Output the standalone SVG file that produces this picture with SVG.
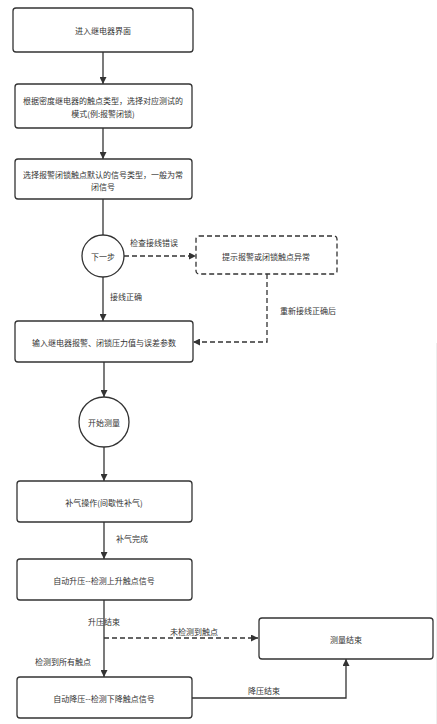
<svg xmlns="http://www.w3.org/2000/svg" width="437" height="724" viewBox="0 0 437 724">
<defs>
<style>
.box{fill:#fff;stroke:#333;stroke-width:1.3}
.dbox{fill:#fff;stroke:#333;stroke-width:1.3;stroke-dasharray:5 3}
.t{font-family:"Noto Sans CJK SC","Liberation Sans",sans-serif;font-size:8px;fill:#333;text-anchor:middle;dominant-baseline:central}
.l{font-family:"Noto Sans CJK SC","Liberation Sans",sans-serif;font-size:8px;fill:#333;dominant-baseline:central}
.c{fill:none;stroke:#333;stroke-width:1.3}
.d{fill:none;stroke:#333;stroke-width:1.3;stroke-dasharray:5 3}
</style>
<marker id="ah" viewBox="0 0 10 10" refX="10" refY="5" markerWidth="7" markerHeight="7" markerUnits="userSpaceOnUse" orient="auto"><path d="M0,0 L10,5 L0,10 z" fill="#333"/></marker>
</defs>
<rect width="437" height="724" fill="#fff"/>
<line x1="436.5" y1="343" x2="436.5" y2="724" stroke="#eee" stroke-width="1"/>
<g id="connectors">
<path class="c" d="M103,52 V84" marker-end="url(#ah)"/>
<path class="c" d="M103,128 V159" marker-end="url(#ah)"/>
<path class="c" d="M103,199 V235"/>
<path class="c" d="M103,277 V321" marker-end="url(#ah)"/>
<path class="d" d="M124,256 H196" marker-end="url(#ah)"/>
<path class="d" d="M267,274 V342 H193" marker-end="url(#ah)"/>
<path class="c" d="M104,362 V397" marker-end="url(#ah)"/>
<path class="c" d="M104,447 V481" marker-end="url(#ah)"/>
<path class="c" d="M104,522 V559" marker-end="url(#ah)"/>
<path class="c" d="M104,600 V677" marker-end="url(#ah)"/>
<path class="d" d="M104,638 H258" marker-end="url(#ah)"/>
<path class="c" d="M192,698 H346 V659" marker-end="url(#ah)"/>
<text class="l" x="130" y="242">检查接线错误</text>
<text class="l" x="110" y="296">接线正确</text>
<text class="l" x="280" y="310">重新接线正确后</text>
<text class="l" x="116" y="538">补气完成</text>
<text class="l" x="88" y="621">升压结束</text>
<text class="l" x="170" y="631">未检测到触点</text>
<text class="l" x="35" y="661">检测到所有触点</text>
<text class="l" x="248" y="690">降压结束</text>
</g>
<g id="n1"><rect class="box" x="13" y="8" width="180" height="44" rx="3"/><text class="t" x="103" y="30">进入继电器界面</text></g>
<g id="n2"><rect class="box" x="15" y="84" width="177" height="44" rx="3"/><text class="t" x="103" y="100">根据密度继电器的触点类型，选择对应测试的</text><text class="t" x="103" y="113">模式(例:报警闭锁)</text></g>
<g id="n3"><rect class="box" x="15" y="159" width="177" height="40" rx="3"/><text class="t" x="103" y="174">选择报警闭锁触点默认的信号类型，一般为常</text><text class="t" x="103" y="186">闭信号</text></g>
<g id="n4"><circle class="box" cx="103" cy="256" r="21"/><text class="t" x="103" y="256">下一步</text></g>
<g id="n5"><rect class="dbox" x="196" y="236" width="141" height="38" rx="3"/><text class="t" x="266" y="256">提示报警或闭锁触点异常</text></g>
<g id="n6"><rect class="box" x="15" y="321" width="178" height="41" rx="3"/><text class="t" x="104" y="342">输入继电器报警、闭锁压力值与误差参数</text></g>
<g id="n7"><circle class="box" cx="104" cy="422" r="25"/><text class="t" x="104" y="422">开始测量</text></g>
<g id="n8"><rect class="box" x="17" y="481" width="175" height="41" rx="3"/><text class="t" x="104" y="502">补气操作(间歇性补气)</text></g>
<g id="n9"><rect class="box" x="17" y="559" width="175" height="41" rx="3"/><text class="t" x="104" y="580">自动升压--检测上升触点信号</text></g>
<g id="n10"><rect class="box" x="17" y="677" width="175" height="41" rx="3"/><text class="t" x="104" y="698">自动降压--检测下降触点信号</text></g>
<g id="n11"><rect class="box" x="259" y="618" width="174" height="41" rx="3"/><text class="t" x="346" y="639">测量结束</text></g>
</svg>
